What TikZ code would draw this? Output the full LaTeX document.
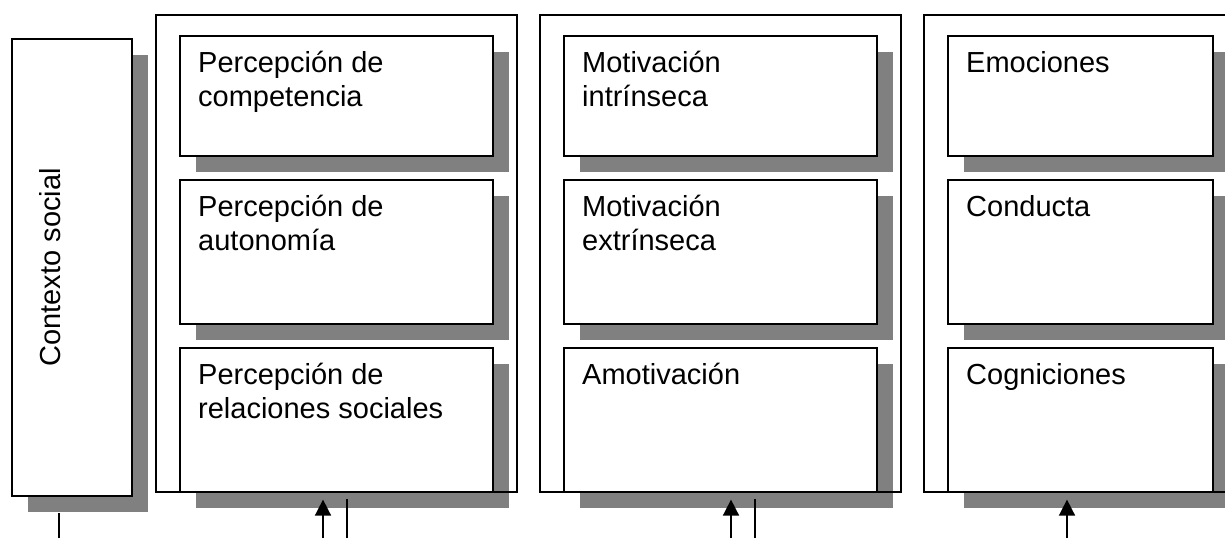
\documentclass[tikz,border=0pt]{standalone}
\usepackage{fontspec}
\setmainfont{Liberation Sans}
\usepackage{tikz}
\usetikzlibrary{arrows.meta,positioning,shadows,calc}
\definecolor{shadowgray}{RGB}{128,128,128}
\newcommand{\topline}{\rule{0pt}{30pt}}

\begin{document}
\begin{tikzpicture}[x=1pt, y=-1pt,
        node distance=22.4pt,
        box/.style={rectangle, draw, fill=white, line width=1.6pt, anchor=north west, inner sep=0pt, minimum width=313pt, minimum height=144pt, drop shadow={shadow xshift=16pt, shadow yshift=-16pt, fill=shadowgray, opacity=1}},
        frame/.style={rectangle, draw, line width=1.6pt, anchor=north west, inner sep=0pt, minimum width=361pt, minimum height=477pt},
        txt/.style={anchor=north west, align=left, inner sep=0pt, font=\fontsize{29}{33.5}\selectfont},
        arrow/.style={-{Triangle[width=16pt,length=16pt]}, line width=1.6pt},
        tick/.style={line width=1.6pt}
    ]
    \useasboundingbox (0,0) rectangle (1225,538);
    \clip (0,0) rectangle (1225,538);

    % contexto
    \node[box, minimum width=120pt, minimum height=457pt] (ctx) at (11,38) {};
    \node[anchor=base, rotate=90, inner sep=0pt, font=\fontsize{29}{33.5}\selectfont] (ctx-t) at ($(ctx.west)+(49,0)$) {Contexto social};

    % mediadores
    \node[box, minimum height=120pt] (comp) at (179,35) {};
    \node[box, below=of comp] (auto) {};
    \node[box, below=of auto] (rel) {};
    \node[txt] (comp-t) at ($(comp.north west)+(19,7.5)$) {\topline Percepción de\\competencia};
    \node[txt] (auto-t) at ($(auto.north west)+(19,7.5)$) {\topline Percepción de\\autonomía};
    \node[txt] (rel-t) at ($(rel.north west)+(19,7.5)$) {\topline Percepción de\\relaciones sociales};

    % motivacion
    \node[box, minimum height=120pt] (intr) at (563,35) {};
    \node[box, below=of intr] (extr) {};
    \node[box, below=of extr] (amot) {};
    \node[txt] (intr-t) at ($(intr.north west)+(19,7.5)$) {\topline Motivación\\intrínseca};
    \node[txt] (extr-t) at ($(extr.north west)+(19,7.5)$) {\topline Motivación\\extrínseca};
    \node[txt] (amot-t) at ($(amot.north west)+(19,7.5)$) {\topline Amotivación};

    % consecuencias
    \node[box, minimum width=265pt, minimum height=120pt] (emo) at (947,35) {};
    \node[box, minimum width=265pt, below=of emo] (cond) {};
    \node[box, minimum width=265pt, below=of cond] (cogn) {};
    \node[txt] (emo-t) at ($(emo.north west)+(19,7.5)$) {\topline Emociones};
    \node[txt] (cond-t) at ($(cond.north west)+(19,7.5)$) {\topline Conducta};
    \node[txt] (cogn-t) at ($(cogn.north west)+(19,7.5)$) {\topline Cogniciones};

    \node[frame] (col1) at (155,14) {};
    \node[frame] (col2) at (539,14) {};
    \node[frame, minimum width=313pt] (col3) at (923,14) {};

    % entradas y salidas
    \coordinate (out0) at (59,538);
    \coordinate (in1) at (323,538);
    \coordinate (out1) at (347,538);
    \coordinate (in2) at (731,538);
    \coordinate (out2) at (755,538);
    \coordinate (in3) at (1067,538);
    \draw[tick, shorten >=16pt] (out0) -- (out0 |- ctx.south);
    \draw[arrow, shorten >=7pt] (in1) -- (in1 |- col1.south);
    \draw[tick, shorten >=6pt] (out1) -- (out1 |- col1.south);
    \draw[arrow, shorten >=7pt] (in2) -- (in2 |- col2.south);
    \draw[tick, shorten >=6pt] (out2) -- (out2 |- col2.south);
    \draw[arrow, shorten >=7pt] (in3) -- (in3 |- col3.south);
\end{tikzpicture}
\end{document}
